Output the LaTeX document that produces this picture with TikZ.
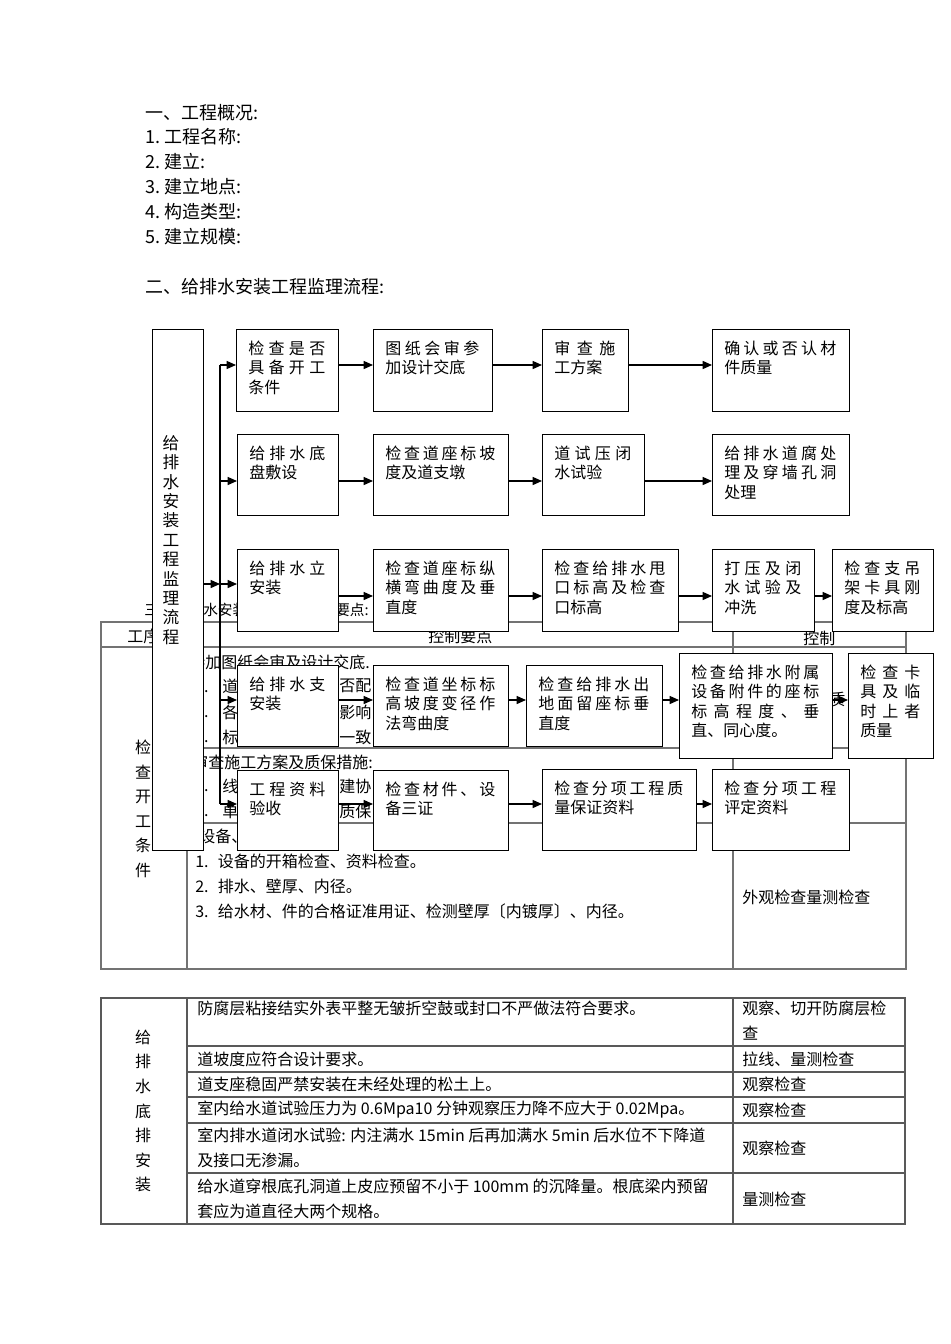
\documentclass[tikz,border=0pt]{standalone}
\usepackage{fontspec}
\setmainfont{Noto Sans CJK SC}
\usetikzlibrary{arrows.meta}
\newdimen\px \px=0.75pt
\newdimen\tw
\newcommand\jl[1]{\makebox[\tw][s]{#1}}
\newcommand\fb[6]{%
  \node[fbox, minimum width=#4*0.75pt, minimum height=#5*0.75pt] (#1) at (#2,#3) {};
  \global\tw=\dimexpr #4\px-25\px\relax
  \node[btxt] (#1t) at (#2+12,#3+9) {\parbox[t]{\tw}{\rule{0pt}{12pt}#6}};
}
\tikzset{
  fbox/.style={draw, line width=1.1pt, fill=white, inner sep=0pt, anchor=north west, rectangle},
  btxt/.style={anchor=north west, inner sep=0pt, font=\fontsize{12pt}{14.6pt}\selectfont},
  hd/.style={anchor=west, inner sep=0pt, font=\fontsize{13.5pt}{16pt}\selectfont},
  tb/.style={anchor=west, inner sep=0pt, font=\fontsize{12pt}{14pt}\selectfont},
  tbs/.style={anchor=west, inner sep=0pt, font=\fontsize{11pt}{13pt}\selectfont},
  vt/.style={align=center, inner sep=0pt, font=\fontsize{12.5pt}{14.55pt}\selectfont},
  vt2/.style={align=center, inner sep=0pt, font=\fontsize{12pt}{18.4pt}\selectfont},
  tl/.style={draw=black!55, line width=0.8pt},
  tl2/.style={draw=black!65, line width=0.8pt},
  arr/.style={line width=1pt, -{Triangle[length=7pt,width=6pt]}},
  trunk/.style={line width=1pt}
}
\begin{document}
\begin{tikzpicture}[x=0.75pt,y=-0.75pt]
\useasboundingbox[fill=white] (0,0) rectangle (950,1344);

% ---------- heading ----------
\node[hd] (h1) at (145,113) {一、工程概况:};
\node[hd] (h2) at (145,137) {1.\hspace{3pt}工程名称:};
\node[hd] (h3) at (145,162) {2.\hspace{3pt}建立:};
\node[hd] (h4) at (145,187) {3.\hspace{3pt}建立地点:};
\node[hd] (h5) at (145,212) {4.\hspace{3pt}构造类型:};
\node[hd] (h6) at (145,237) {5.\hspace{3pt}建立规模:};
\node[hd] (h7) at (145,287) {二、给排水安装工程监理流程:};

% ---------- table 1 (behind the flow chart) ----------
\node[tbs] (t1title) at (144,610) {三};
\node[tbs] (t1title2) at (203,610) {水安装工程质量控制要点:};
\draw[tl] (101,622) rectangle (906,969);
\draw[tl] (101,647) -- (906,647);
\draw[tl] (187,622) -- (187,969);
\draw[tl] (733,622) -- (733,969);
\draw[tl] (187,748) -- (906,748);
\draw[tl] (187,823) -- (906,823);
\node[tb] (th1) at (127,636) {工序};
\node[tb] (th2) at (428,636) {控制要点};
\node[tb] (th3) at (803,638) {控制};
\node[vt2] (c1) at (143,809) {检\\查\\开\\工\\条\\件};
\node[tb] (a0) at (189,662) {参加图纸会审及设计交底.};
\node[tb] (a1) at (195,687) {1.};
\node[tb] (a1b) at (222,686) {道};
\node[tb] (a1c) at (339,686) {否配};
\node[tb] (a1d) at (829,699) {质};
\node[tb] (a2) at (195,712) {2.};
\node[tb] (a2b) at (222,712) {各};
\node[tb] (a2c) at (339,712) {影响};
\node[tb] (a3) at (195,737) {3.};
\node[tb] (a3b) at (222,737) {标};
\node[tb] (a3c) at (339,737) {一致};
\node[tb] (b0) at (192,762) {审查施工方案及质保措施:};
\node[tb] (b1) at (195,786) {1.};
\node[tb] (b1b) at (222,786) {线};
\node[tb] (b1c) at (339,786) {建协};
\node[tb] (b2) at (195,811) {2.};
\node[tb] (b2b) at (222,811) {单};
\node[tb] (b2c) at (339,811) {质保};
\node[tb] (d0) at (199,836) {设备、};
\node[tb] (d1) at (195,861) {1.\hspace{7pt}设备的开箱检查、资料检查。};
\node[tb] (d2) at (195,886) {2.\hspace{7pt}排水、壁厚、内径。};
\node[tb] (d3) at (195,911) {3.\hspace{7pt}给水材、件的合格证准用证、检测壁厚〔内镀厚〕、内径。};
\node[tb] (d4) at (742,897) {外观检查量测检查};

% ---------- table 2 ----------
\draw[tl2] (101,998) rectangle (905,1224);
\draw[tl2] (187,998) -- (187,1224);
\draw[tl2] (733,998) -- (733,1224);
\foreach \yy in {1046,1072,1097,1123,1173} \draw[tl2] (187,\yy) -- (905,\yy);
\node[vt2] (c2) at (143,1111) {给\\排\\水\\底\\排\\安\\装};
\node[tb] (e1) at (197,1008) {防腐层粘接结实外表平整无皱折空鼓或封口不严做法符合要求。};
\node[tb] (e1r) at (742,1008) {观察、切开防腐层检};
\node[tb] (e1s) at (742,1033) {查};
\node[tb] (e2) at (197,1059) {道坡度应符合设计要求。};
\node[tb] (e2r) at (742,1059) {拉线、量测检查};
\node[tb] (e3) at (197,1084) {道支座稳固严禁安装在未经处理的松土上。};
\node[tb] (e3r) at (742,1084) {观察检查};
\node[tb] (e4) at (197,1110) {室内给水道试验压力为 0.6Mpa10 分钟观察压力降不应大于 0.02Mpa。};
\node[tb] (e4r) at (742,1110) {观察检查};
\node[tb] (e5) at (197,1135) {室内排水道闭水试验: 内注满水 15min 后再加满水 5min 后水位不下降道};
\node[tb] (e5b) at (197,1160) {及接口无渗漏。};
\node[tb] (e5r) at (742,1148) {观察检查};
\node[tb] (e6) at (197,1186) {给水道穿根底孔洞道上皮应预留不小于 100mm 的沉降量。根底梁内预留};
\node[tb] (e6b) at (197,1211) {套应为道直径大两个规格。};
\node[tb] (e6r) at (742,1199) {量测检查};

% ---------- flow chart ----------
\node[fbox, minimum width=51*0.75pt, minimum height=521*0.75pt] (tall) at (152,329) {};
\node[vt] (tallt) at (171,540) {给\\排\\水\\安\\装\\工\\程\\监\\理\\流\\程};

\fb{b11}{236}{329}{102}{82}{\jl{检 查 是 否}\\\jl{具 备 开 工}\\条件}
\fb{b12}{373}{329}{119}{82}{\jl{图 纸 会 审 参}\\加设计交底}
\fb{b13}{542}{329}{86}{82}{\jl{审 查 施}\\工方案}
\fb{b14}{712}{329}{137}{82}{\jl{确 认 或 否 认 材}\\件质量}

\fb{b21}{237}{434}{101}{81}{\jl{给 排 水 底}\\盘敷设}
\fb{b22}{373}{434}{135}{81}{\jl{检 查 道 座 标 坡}\\度及道支墩}
\fb{b23}{542}{434}{102}{81}{\jl{道 试 压 闭}\\水试验}
\fb{b24}{712}{434}{137}{81}{\jl{给 排 水 道 腐 处}\\\jl{理 及 穿 墙 孔 洞}\\处理}

\fb{b31}{237}{549}{101}{82}{\jl{给 排 水 立}\\安装}
\fb{b32}{373}{549}{135}{82}{\jl{检 查 道 座 标 纵}\\\jl{横 弯 曲 度 及 垂}\\直度}
\fb{b33}{542}{549}{136}{82}{\jl{检 查 给 排 水 甩}\\\jl{口 标 高 及 检 查}\\口标高}
\fb{b34}{712}{549}{102}{82}{\jl{打 压 及 闭}\\\jl{水 试 验 及}\\冲洗}
\fb{b35}{832}{549}{101}{82}{\jl{检 查 支 吊}\\\jl{架 卡 具 刚}\\度及标高}

\fb{b41}{237}{665}{101}{81}{\jl{给 排 水 支}\\安装}
\fb{b42}{373}{665}{135}{81}{\jl{检 查 道 坐 标 标}\\\jl{高 坡 度 变 径 作}\\法弯曲度}
\fb{b43}{526}{665}{136}{81}{\jl{检 查 给 排 水 出}\\\jl{地 面 留 座 标 垂}\\直度}
\fb{b44}{679}{653}{153}{105}{\jl{检 查 给 排 水 附 属}\\\jl{设 备 附 件 的 座 标}\\\jl{标 高 程 度 、 垂}\\直、同心度。}
\fb{b45}{848}{653}{85}{105}{\jl{检 查 卡}\\\jl{具 及 临}\\\jl{时 上 者}\\质量}

\fb{b51}{237}{770}{101}{80}{\jl{工 程 资 料}\\验收}
\fb{b52}{373}{770}{135}{80}{\jl{检 查 材 件 、 设}\\备三证}
\fb{b53}{542}{769}{154}{81}{\jl{检 查 分 项 工 程 质}\\量保证资料}
\fb{b54}{712}{769}{137}{81}{\jl{检 查 分 项 工 程}\\评定资料}

% connectors
\coordinate (t1) at (220,365);
\coordinate (t2) at (220,481);
\coordinate (t3) at (220,584);
\coordinate (t4) at (220,700);
\coordinate (t5) at (220,804);
\coordinate (r3) at (220,596);
\draw[trunk] (t1) -- (t5);
\draw[arr] (tall.east |- t3) -- (t3);
\draw[arr] (t1) -- (b11.west |- t1);
\draw[arr] (t2) -- (b21.west |- t2);
\draw[arr] (t3) -- (b31.west |- t3);
\draw[arr] (t4) -- (b41.west |- t4);
\draw[arr] (t5) -- (b51.west |- t5);

\draw[arr] (b11.east |- t1) -- (b12.west |- t1);
\draw[arr] (b12.east |- t1) -- (b13.west |- t1);
\draw[arr] (b13.east |- t1) -- (b14.west |- t1);

\draw[arr] (b21.east |- t2) -- (b22.west |- t2);
\draw[arr] (b22.east |- t2) -- (b23.west |- t2);
\draw[arr] (b23.east |- t2) -- (b24.west |- t2);

\draw[arr] (b31.east |- r3) -- (b32.west |- r3);
\draw[arr] (b32.east |- r3) -- (b33.west |- r3);
\draw[arr] (b33.east |- r3) -- (b34.west |- r3);
\draw[arr] (b34.east |- r3) -- (b35.west |- r3);

\draw[arr] (b41.east |- t4) -- (b42.west |- t4);
\draw[arr] (b42.east |- t4) -- (b43.west |- t4);
\draw[arr] (b43.east |- t4) -- (b44.west |- t4);
\draw[arr] (b44.east |- t4) -- (b45.west |- t4);

\draw[arr] (b51.east |- t5) -- (b52.west |- t5);
\draw[arr] (b52.east |- t5) -- (b53.west |- t5);
\draw[arr] (b53.east |- t5) -- (b54.west |- t5);
\end{tikzpicture}
\end{document}
